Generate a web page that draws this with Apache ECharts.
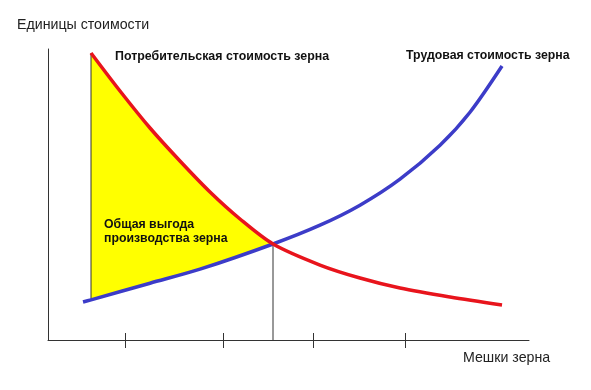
<!DOCTYPE html>
<html>
<head>
<meta charset="utf-8">
<script src="https://cdn.jsdelivr.net/npm/echarts@6/dist/echarts.min.js"></script>
<style>html,body{margin:0;padding:0;background:#fff;}#c{width:591px;height:390px;}</style>
</head>
<body>
<div id="c"></div>
<script>
// Labour value of grain (blue), rising
var laborX = [7.28, 8.94, 21.21, 31.60, 46.78, 56.55, 64.86, 73.18, 81.50, 87.73, 94.39];
var laborY = [13.06, 13.81, 19.52, 24.33, 32.99, 39.45, 46.32, 55.26, 66.94, 78.28, 94.16];
// Use value of grain (red), falling
var useX = [8.94, 14.97, 21.21, 27.44, 33.68, 39.92, 46.78, 56.55, 64.86, 73.18, 83.58, 94.39];
var useY = [98.63, 85.57, 72.85, 61.51, 50.86, 41.58, 32.99, 25.77, 21.31, 17.87, 14.78, 12.03];
// Equilibrium point and x tick marks
var eqX = 46.78, eqY = 32.99;
var startX = 8.94;
var tickValues = [16.0, 36.4, 55.1, 74.2];

var labels = {
  yName: 'Единицы стоимости',
  xName: 'Мешки зерна',
  use: 'Потребительская стоимость зерна',
  labor: 'Трудовая стоимость зерна',
  surplus: 'Общая выгода\nпроизводства зерна'
};

function pairs(xs, ys) { return xs.map(function (x, i) { return [x, ys[i]]; }); }

var chart = echarts.init(document.getElementById('c'));
var axisColor = '#333';
var baseAxisX = {
  type: 'value', min: 0, max: 100,
  axisLabel: { show: false }, splitLine: { show: false }
};
chart.setOption({
  animation: false,
  grid: { left: 48, top: 49, right: 62, bottom: 50 },
  xAxis: [
    Object.assign({}, baseAxisX, {
      axisLine: { show: true, lineStyle: { color: axisColor, width: 1 } },
      axisTick: { show: true, inside: true, length: 7, customValues: tickValues, lineStyle: { color: axisColor } }
    }),
    Object.assign({}, baseAxisX, {
      position: 'bottom',
      axisLine: { show: false },
      axisTick: { show: true, inside: false, length: 8, customValues: tickValues, lineStyle: { color: axisColor } }
    })
  ],
  yAxis: {
    type: 'value', min: 0, max: 100,
    axisLine: { show: true, lineStyle: { color: axisColor, width: 1 } },
    axisTick: { show: false }, axisLabel: { show: false }, splitLine: { show: false }
  },
  series: [
    {
      type: 'custom',
      data: [0],
      z: 1,
      renderItem: function (params, api) {
        var pts = [];
        useX.forEach(function (x, i) { if (x <= eqX) pts.push(api.coord([x, useY[i]])); });
        for (var i = laborX.length - 1; i >= 0; i--) {
          if (laborX[i] <= eqX && laborX[i] >= startX) pts.push(api.coord([laborX[i], laborY[i]]));
        }
        var topLeft = api.coord([startX, useY[0]]);
        var botLeft = api.coord([startX, laborY[1]]);
        var eq = api.coord([eqX, eqY]);
        var eqBase = api.coord([eqX, 0]);
        return {
          type: 'group',
          children: [
            { type: 'polygon', shape: { points: pts }, style: { fill: '#ffff00' } },
            { type: 'line', shape: { x1: topLeft[0], y1: topLeft[1], x2: botLeft[0], y2: botLeft[1] }, style: { stroke: '#333', lineWidth: 1 } },
            { type: 'line', shape: { x1: eq[0], y1: eq[1], x2: eqBase[0], y2: eqBase[1] }, style: { stroke: '#333', lineWidth: 1 } }
          ]
        };
      }
    },
    {
      type: 'line', name: labels.labor, data: pairs(laborX, laborY), smooth: 0.3,
      showSymbol: false, z: 3,
      lineStyle: { color: '#3c3cc8', width: 3.5 }
    },
    {
      type: 'line', name: labels.use, data: pairs(useX, useY), smooth: 0.3,
      showSymbol: false, z: 4,
      lineStyle: { color: '#e8141c', width: 3.5 }
    }
  ],
  graphic: [
    { type: 'text', x: 17, y: 25, z: 10, style: { text: labels.yName, font: '14.2px "Liberation Sans", Arial, sans-serif', fill: '#222', verticalAlign: 'middle' } },
    { type: 'text', x: 463, y: 358, z: 10, style: { text: labels.xName, font: '14.2px "Liberation Sans", Arial, sans-serif', fill: '#222', verticalAlign: 'middle' } },
    { type: 'text', x: 115, y: 57, z: 10, style: { text: labels.use, font: 'bold 12.4px "Liberation Sans", Arial, sans-serif', fill: '#111', verticalAlign: 'middle' } },
    { type: 'text', x: 406, y: 56, z: 10, style: { text: labels.labor, font: 'bold 12.3px "Liberation Sans", Arial, sans-serif', fill: '#111', verticalAlign: 'middle' } },
    { type: 'text', x: 104, y: 217, z: 10, style: { text: labels.surplus, font: 'bold 12.3px "Liberation Sans", Arial, sans-serif', fill: '#111', lineHeight: 14.5 } }
  ]
});
</script>
</body>
</html>
